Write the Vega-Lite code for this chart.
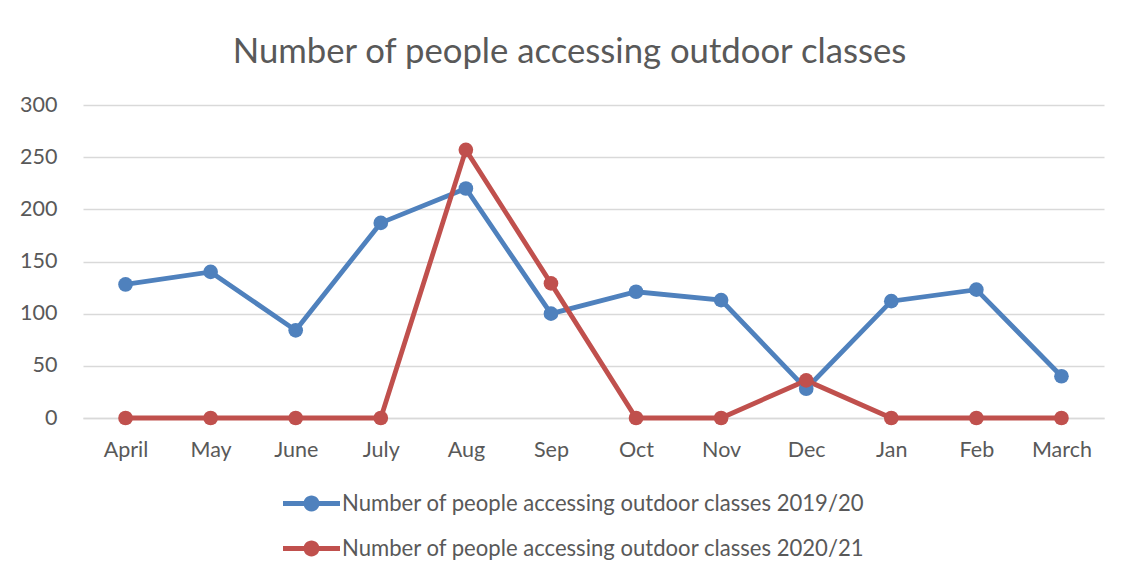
{
  "$schema": "https://vega.github.io/schema/vega-lite/v6.json",
  "autosize": {"type": "none"},
  "width": 1021,
  "height": 313,
  "padding": {"left": 83, "top": 105, "right": 24, "bottom": 162},
  "background": "white",
  "title": {
    "text": "Number of people accessing outdoor classes",
    "font": "Lato",
    "fontSize": 34.7,
    "fontWeight": "normal",
    "color": "#595959",
    "anchor": "middle",
    "baseline": "alphabetic",
    "dx": -24,
    "dy": 47,
    "offset": 43
  },
  "data": {
    "values": [
      {"month": "April", "series": "Number of people accessing outdoor classes 2019/20", "value": 128},
      {"month": "May", "series": "Number of people accessing outdoor classes 2019/20", "value": 140},
      {"month": "June", "series": "Number of people accessing outdoor classes 2019/20", "value": 84},
      {"month": "July", "series": "Number of people accessing outdoor classes 2019/20", "value": 187},
      {"month": "Aug", "series": "Number of people accessing outdoor classes 2019/20", "value": 220},
      {"month": "Sep", "series": "Number of people accessing outdoor classes 2019/20", "value": 100},
      {"month": "Oct", "series": "Number of people accessing outdoor classes 2019/20", "value": 121},
      {"month": "Nov", "series": "Number of people accessing outdoor classes 2019/20", "value": 113},
      {"month": "Dec", "series": "Number of people accessing outdoor classes 2019/20", "value": 28},
      {"month": "Jan", "series": "Number of people accessing outdoor classes 2019/20", "value": 112},
      {"month": "Feb", "series": "Number of people accessing outdoor classes 2019/20", "value": 123},
      {"month": "March", "series": "Number of people accessing outdoor classes 2019/20", "value": 40},
      {"month": "April", "series": "Number of people accessing outdoor classes 2020/21", "value": 0},
      {"month": "May", "series": "Number of people accessing outdoor classes 2020/21", "value": 0},
      {"month": "June", "series": "Number of people accessing outdoor classes 2020/21", "value": 0},
      {"month": "July", "series": "Number of people accessing outdoor classes 2020/21", "value": 0},
      {"month": "Aug", "series": "Number of people accessing outdoor classes 2020/21", "value": 257},
      {"month": "Sep", "series": "Number of people accessing outdoor classes 2020/21", "value": 129},
      {"month": "Oct", "series": "Number of people accessing outdoor classes 2020/21", "value": 0},
      {"month": "Nov", "series": "Number of people accessing outdoor classes 2020/21", "value": 0},
      {"month": "Dec", "series": "Number of people accessing outdoor classes 2020/21", "value": 36},
      {"month": "Jan", "series": "Number of people accessing outdoor classes 2020/21", "value": 0},
      {"month": "Feb", "series": "Number of people accessing outdoor classes 2020/21", "value": 0},
      {"month": "March", "series": "Number of people accessing outdoor classes 2020/21", "value": 0}
    ]
  },
  "encoding": {
    "x": {
      "field": "month",
      "type": "nominal",
      "sort": ["April", "May", "June", "July", "Aug", "Sep", "Oct", "Nov", "Dec", "Jan", "Feb", "March"],
      "scale": {"type": "point", "padding": 0.5},
      "axis": {
        "title": null,
        "labelAngle": 0,
        "labelFont": "Lato",
        "labelFontSize": 21.5,
        "labelColor": "#595959",
        "labelPadding": 21,
        "ticks": false,
        "domain": true,
        "domainColor": "#d9d9d9",
        "domainWidth": 1.5,
        "grid": false
      }
    },
    "y": {
      "field": "value",
      "type": "quantitative",
      "scale": {"domain": [0, 300], "nice": false},
      "axis": {
        "title": null,
        "values": [0, 50, 100, 150, 200, 250, 300],
        "labelFont": "Lato",
        "labelFontSize": 21.5,
        "labelColor": "#595959",
        "labelPadding": 26,
        "ticks": false,
        "domain": false,
        "grid": true,
        "gridColor": "#d9d9d9",
        "gridWidth": 1.5
      }
    },
    "color": {
      "field": "series",
      "type": "nominal",
      "scale": {"range": ["#4f81bd", "#c0504d"]},
      "legend": {
        "title": null,
        "orient": "none",
        "legendX": 200,
        "legendY": 370,
        "direction": "vertical",
        "symbolType": "M-1,-0.09H1V0.09H-1Z M-0.28,0A0.28,0.28 0 1,1 0.28,0A0.28,0.28 0 1,1 -0.28,0Z",
        "symbolSize": 3249,
        "symbolStrokeWidth": 0,
        "labelFont": "Lato",
        "labelFontSize": 22.1,
        "labelColor": "#595959",
        "labelOffset": 2,
        "labelLimit": 0,
        "rowPadding": 5,
        "encode": {
          "symbols": {"update": {"fill": {"scale": "color", "field": "value"}, "stroke": {"value": "transparent"}, "opacity": {"value": 1}}}
        }
      }
    }
  },
  "layer": [
    {"mark": {"type": "line", "strokeWidth": 4.8}},
    {"mark": {"type": "point", "filled": true, "size": 215, "opacity": 1}}
  ],
  "config": {"view": {"stroke": null}}
}
